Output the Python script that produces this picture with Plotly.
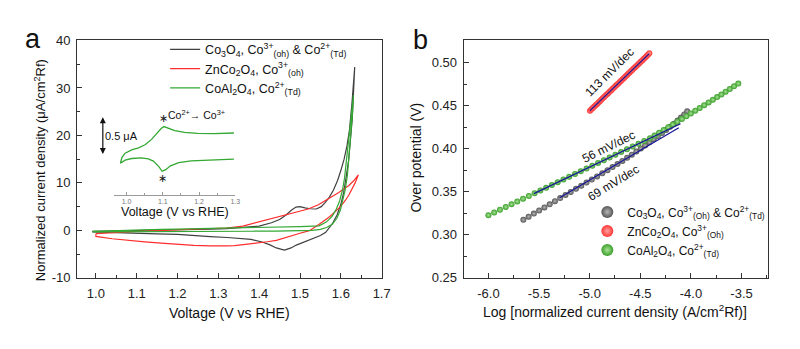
import math
import plotly.graph_objects as go

# ---------------- (a) cyclic voltammograms (forward sweep, then reverse) ----------------
co3o4_v = [0.991, 1.04, 1.08, 1.12, 1.16, 1.20, 1.24, 1.28, 1.32, 1.36, 1.40, 1.43, 1.45, 1.465,
           1.478, 1.490, 1.500, 1.512, 1.525, 1.540, 1.552, 1.562, 1.572, 1.582, 1.592, 1.600,
           1.608, 1.615, 1.621, 1.627, 1.634,
           1.631, 1.628, 1.624, 1.619, 1.613, 1.607, 1.600, 1.591, 1.580, 1.563, 1.550, 1.535,
           1.520, 1.505, 1.491, 1.478, 1.468, 1.462, 1.455, 1.442, 1.425, 1.405, 1.380, 1.350,
           1.322, 1.28, 1.24, 1.20, 1.15, 1.10, 1.05, 1.01, 0.991]
co3o4_j = [-0.2, -0.15, -0.1, 0.0, 0.05, 0.1, 0.2, 0.25, 0.35, 0.55, 0.9, 1.6, 2.3, 3.2,
           4.2, 4.9, 5.0, 4.75, 4.55, 4.5, 5.0, 5.9, 7.0, 8.5, 10.5, 12.6,
           15.0, 17.8, 21.0, 26.5, 34.4,
           29.0, 23.5, 18.8, 14.7, 11.2, 8.0, 5.5, 3.3, 1.5, -0.4, -1.1, -1.6,
           -2.0, -2.5, -3.1, -3.7, -4.05, -4.15, -4.0, -3.7, -3.0, -2.4, -1.9, -1.65,
           -1.5, -1.3, -1.05, -0.85, -0.72, -0.6, -0.5, -0.4, -0.3]

znco2o4_v = [1.000, 1.04, 1.08, 1.12, 1.16, 1.20, 1.24, 1.28, 1.32, 1.36, 1.40, 1.43, 1.46,
             1.49, 1.52, 1.545, 1.563, 1.580, 1.595, 1.607, 1.619, 1.631, 1.643,
             1.635, 1.628, 1.620, 1.611, 1.600, 1.587, 1.570, 1.547, 1.523, 1.500, 1.483,
             1.462, 1.442, 1.420, 1.400, 1.380, 1.362, 1.340, 1.320, 1.300, 1.280, 1.240,
             1.200, 1.160, 1.120, 1.080, 1.040, 1.000, 1.000]
znco2o4_j = [-0.7, -0.45, -0.25, -0.1, 0.0, 0.1, 0.2, 0.3, 0.5, 0.9, 1.8, 2.4, 3.0,
             3.8, 4.5, 5.4, 6.3, 7.1, 8.0, 8.7, 9.4, 10.4, 11.7,
             10.0, 8.7, 7.5, 6.3, 5.1, 4.0, 2.7, 1.27, -0.06, -0.6, -1.0,
             -1.6, -2.1, -2.4, -2.6, -2.85, -3.05, -3.2, -3.28, -3.3, -3.28, -3.15,
             -2.97, -2.7, -2.42, -2.1, -1.76, -1.27, -0.7]

coal2o4_v = [0.992, 1.04, 1.08, 1.12, 1.16, 1.20, 1.26, 1.32, 1.38, 1.44, 1.50, 1.547, 1.565,
             1.579, 1.589, 1.597, 1.604, 1.609, 1.614, 1.619, 1.625, 1.631,
             1.628, 1.624, 1.620, 1.616, 1.611, 1.605, 1.599, 1.590, 1.579, 1.565, 1.550,
             1.530, 1.500, 1.44, 1.38, 1.32, 1.26, 1.20, 1.14, 1.08, 1.03, 0.992]
coal2o4_j = [-0.2, -0.05, 0.05, 0.12, 0.2, 0.28, 0.36, 0.46, 0.55, 0.68, 0.8, 0.95, 1.8,
             3.0, 4.5, 6.2, 8.5, 11.0, 15.0, 19.0, 24.0, 28.5,
             24.0, 19.5, 15.0, 11.5, 8.7, 6.2, 4.3, 2.5, 1.27, 0.6, 0.2,
             0.0, -0.1, -0.15, -0.18, -0.2, -0.22, -0.25, -0.27, -0.3, -0.3, -0.3]

# inset: zoomed CoAl2O4 loop (current in uA, arbitrary offset)
inset_v = [1.296, 1.224, 1.178, 1.144, 1.121, 1.108, 1.098, 1.089, 1.074, 1.060, 1.041, 1.014,
           0.996, 0.983, 0.987, 0.996, 1.014, 1.033, 1.051, 1.069, 1.083, 1.096, 1.103, 1.115,
           1.133, 1.160, 1.196, 1.242, 1.296]
inset_i = [0.4625, 0.454, 0.441, 0.416, 0.375, 0.325, 0.304, 0.366, 0.4375, 0.466, 0.479, 0.471,
           0.45, 0.409, 0.484, 0.541, 0.584, 0.609, 0.650, 0.721, 0.804, 0.866, 0.888, 0.866,
           0.834, 0.813, 0.800, 0.796, 0.804]
inset_scale_bar = 0.5  # uA

# ---------------- (b) Tafel data ----------------
co3o4_logj = [-5.655, -5.603, -5.551, -5.499, -5.447, -5.395, -5.343, -5.291, -5.239, -5.187,
              -5.135, -5.083, -5.031, -4.979, -4.927, -4.875, -4.824, -4.774, -4.725, -4.677,
              -4.630, -4.584, -4.539, -4.495, -4.452, -4.410, -4.368, -4.326, -4.285, -4.245,
              -4.206, -4.168, -4.132, -4.098, -4.066, -4.037]
co3o4_eta = [0.3174, 0.3210, 0.3246, 0.3282, 0.3318, 0.3354, 0.3390, 0.3426, 0.3462, 0.3498,
             0.3534, 0.3570, 0.3606, 0.3642, 0.3678, 0.3714, 0.3750, 0.3786, 0.3822, 0.3858,
             0.3894, 0.3930, 0.3966, 0.4002, 0.4038, 0.4074, 0.4110, 0.4146, 0.4182, 0.4218,
             0.4254, 0.4290, 0.4326, 0.4362, 0.4398, 0.4434]

znco2o4_logj = [-4.997, -4.983, -4.969, -4.955, -4.941, -4.927, -4.913, -4.899, -4.885, -4.871,
                -4.857, -4.843, -4.829, -4.815, -4.801, -4.787, -4.773, -4.759, -4.745, -4.731,
                -4.717, -4.703, -4.689, -4.675, -4.661, -4.647, -4.633, -4.619, -4.605, -4.591,
                -4.577, -4.563, -4.549, -4.535, -4.521, -4.507, -4.493, -4.479, -4.465, -4.451,
                -4.437, -4.424, -4.411]
znco2o4_eta = [0.4441, 0.4457, 0.4473, 0.4489, 0.4505, 0.4520, 0.4536, 0.4552, 0.4568, 0.4584,
               0.4600, 0.4616, 0.4632, 0.4647, 0.4663, 0.4679, 0.4695, 0.4711, 0.4727, 0.4743,
               0.4758, 0.4774, 0.4790, 0.4806, 0.4822, 0.4838, 0.4853, 0.4869, 0.4885, 0.4901,
               0.4917, 0.4933, 0.4948, 0.4964, 0.4980, 0.4996, 0.5012, 0.5028, 0.5043, 0.5059,
               0.5075, 0.5091, 0.5108]

coal2o4_logj = [-6.000, -5.943, -5.886, -5.829, -5.772, -5.715, -5.658, -5.601, -5.544, -5.487,
                -5.430, -5.373, -5.316, -5.259, -5.202, -5.145, -5.088, -5.031, -4.974, -4.917,
                -4.860, -4.803, -4.746, -4.689, -4.632, -4.575, -4.518, -4.461, -4.404, -4.359,
                -4.314, -4.269, -4.224, -4.179, -4.134, -4.089, -4.045, -4.001, -3.957, -3.913,
                -3.869, -3.825, -3.783, -3.741, -3.699, -3.657, -3.616, -3.574, -3.532]
coal2o4_eta = [0.3227, 0.3259, 0.3291, 0.3323, 0.3355, 0.3387, 0.3419, 0.3450, 0.3482, 0.3514,
               0.3546, 0.3578, 0.3610, 0.3642, 0.3674, 0.3706, 0.3738, 0.3770, 0.3802, 0.3834,
               0.3865, 0.3897, 0.3929, 0.3961, 0.3993, 0.4025, 0.4057, 0.4089, 0.4121, 0.4153,
               0.4185, 0.4217, 0.4249, 0.4281, 0.4313, 0.4345, 0.4377, 0.4409, 0.4441, 0.4473,
               0.4505, 0.4537, 0.4568, 0.4599, 0.4630, 0.4662, 0.4693, 0.4725, 0.4756]

# Tafel fits: slope (V/dec), intercept (V), fitted log j span
fit_slopes = [0.069, 0.113, 0.056]
fit_intercepts = [0.7085, 1.0088, 0.6587]
fit_spans = [(-5.297, -4.12), (-4.997, -4.411), (-5.551, -4.103)]
fit_labels = ["69 mV/dec", "113 mV/dec", "56 mV/dec"]
fit_label_pos = [(-4.765, 0.3598), (-4.80, 0.4889), (-4.818, 0.4022)]

# axis ticks
a_xticks = [1.0, 1.1, 1.2, 1.3, 1.4, 1.5, 1.6, 1.7]
a_yticks = [-10, 0, 10, 20, 30, 40]
b_xticks = [-6.0, -5.5, -5.0, -4.5, -4.0, -3.5]
b_yticks = [0.25, 0.30, 0.35, 0.40, 0.45, 0.50]
inset_xticks = [1.0, 1.1, 1.2, 1.3]

names = [
    "Co<sub>3</sub>O<sub>4</sub>, Co<sup>3+</sup><sub>(oh)</sub> & Co<sup>2+</sup><sub>(Td)</sub>",
    "ZnCo<sub>2</sub>O<sub>4</sub>, Co<sup>3+</sup><sub>(oh)</sub>",
    "CoAl<sub>2</sub>O<sub>4</sub>, Co<sup>2+</sup><sub>(Td)</sub>",
]
names_b = [
    "Co<sub>3</sub>O<sub>4</sub>, Co<sup>3+</sup><sub>(Oh)</sub> & Co<sup>2+</sup><sub>(Td)</sub>",
    "ZnCo<sub>2</sub>O<sub>4</sub>, Co<sup>3+</sup><sub>(Oh)</sub>",
    "CoAl<sub>2</sub>O<sub>4</sub>, Co<sup>2+</sup><sub>(Td)</sub>",
]

FONT = "Liberation Sans, Arial, sans-serif"
FRAME = "#333333"
line_colors = ["#404040", "#ff2d2d", "#33a833"]
ball_edge = ["#555555", "#ff3535", "#3c9e2c"]
ball_core = ["#b5b5b5", "#ffa0a0", "#a6e394"]
FIT_BLUE = "#16169a"

# pixel scale of panel b (for text rotation along fitted lines)
B_PX_PER_DEC = 308 / (-3.236 + 6.244)
B_PX_PER_V = 248 / (0.5256 - 0.25)

fig = go.Figure()

# panel a curves
for v, j, c, n in zip([co3o4_v, znco2o4_v, coal2o4_v], [co3o4_j, znco2o4_j, coal2o4_j],
                      line_colors, names):
    fig.add_trace(go.Scatter(x=v, y=j, mode="lines", name=n, legend="legend",
                             line=dict(color=c, width=1.2), xaxis="x", yaxis="y"))

# inset loop
fig.add_trace(go.Scatter(x=inset_v, y=inset_i, mode="lines", showlegend=False,
                         line=dict(color=line_colors[2], width=1.3), xaxis="x3", yaxis="y3"))

# panel b markers
for k, (lx, ly) in enumerate([(co3o4_logj, co3o4_eta), (znco2o4_logj, znco2o4_eta),
                              (coal2o4_logj, coal2o4_eta)]):
    fig.add_trace(go.Scatter(x=lx, y=ly, mode="markers", name=names_b[k], legend="legend2",
                             marker=dict(size=6, color=ball_edge[k], line=dict(width=0),
                                         gradient=dict(type="radial", color=ball_core[k])),
                             xaxis="x2", yaxis="y2"))

# Tafel fit lines
for s, b, (x0, x1) in zip(fit_slopes, fit_intercepts, fit_spans):
    fig.add_trace(go.Scatter(x=[x0, x1], y=[b + s * x0, b + s * x1], mode="lines",
                             showlegend=False, line=dict(color=FIT_BLUE, width=1.3),
                             xaxis="x2", yaxis="y2"))

axis_base = dict(showline=True, linecolor=FRAME, linewidth=1.2, mirror=True, ticks="inside",
                 ticklen=5, tickwidth=1.1, tickcolor=FRAME, showgrid=False, zeroline=False,
                 tickfont=dict(family=FONT, size=13, color="#222"), ticklabelstandoff=3)

dom_y = [66 / 349, 314 / 349]
fig.update_layout(
    width=800, height=349, margin=dict(l=0, r=0, t=0, b=0),
    paper_bgcolor="white", plot_bgcolor="white",
    font=dict(family=FONT, color="#111"),
    xaxis=dict(axis_base, domain=[78 / 800, 386 / 800], anchor="y", range=[0.954, 1.7],
               tickmode="array", tickvals=a_xticks, ticktext=[f"{t:.1f}" for t in a_xticks],
               minor=dict(ticks="inside", ticklen=3, tickcolor=FRAME, tickmode="linear",
                          tick0=1.0, dtick=0.05)),
    yaxis=dict(axis_base, domain=dom_y, anchor="x", range=[-10, 40],
               tickmode="array", tickvals=a_yticks, ticktext=[str(t) for t in a_yticks],
               minor=dict(ticks="inside", ticklen=3, tickcolor=FRAME, tickmode="linear",
                          tick0=0, dtick=5)),
    xaxis2=dict(axis_base, domain=[469 / 800, 777 / 800], anchor="y2", range=[-6.244, -3.236],
                tickmode="array", tickvals=b_xticks, ticktext=[f"{t:.1f}" for t in b_xticks],
                minor=dict(ticks="inside", ticklen=3, tickcolor=FRAME, tickmode="linear",
                           tick0=-6.0, dtick=0.25)),
    yaxis2=dict(axis_base, domain=dom_y, anchor="x2", range=[0.25, 0.5256],
                tickmode="array", tickvals=b_yticks, ticktext=[f"{t:.2f}" for t in b_yticks],
                minor=dict(ticks="inside", ticklen=3, tickcolor=FRAME, tickmode="linear",
                           tick0=0.25, dtick=0.025)),
    xaxis3=dict(domain=[115 / 800, 238 / 800], anchor="y3", range=[0.9645, 1.3],
                showline=True, linecolor="#9a9a9a", linewidth=1, ticks="inside", ticklen=3,
                tickcolor="#9a9a9a", showgrid=False, zeroline=False,
                tickmode="array", tickvals=inset_xticks,
                ticktext=[f"{t:.1f}" for t in inset_xticks],
                tickfont=dict(family=FONT, size=7, color="#777"), ticklabelstandoff=0,
                minor=dict(ticks="inside", ticklen=2, tickcolor="#9a9a9a", tickmode="linear",
                           tick0=1.0, dtick=0.05)),
    yaxis3=dict(domain=[1 - 196 / 349, 1 - 105 / 349], anchor="x3", range=[0, 1.1375],
                visible=False),
    legend=dict(x=167 / 800, y=1 - 29 / 349, xanchor="left", yanchor="top",
                bgcolor="rgba(0,0,0,0)", font=dict(family=FONT, size=12.5, color="#111"),
                tracegroupgap=0),
    legend2=dict(x=594 / 800, y=1 - 199 / 349, xanchor="left", yanchor="top",
                 bgcolor="rgba(0,0,0,0)", font=dict(family=FONT, size=12, color="#111"),
                 itemsizing="constant", tracegroupgap=0),
)

ann = []
def label(text, x, y, size, angle=0, color="#111", xref="paper", yref="paper", **kw):
    ann.append(dict(text=text, x=x, y=y, xref=xref, yref=yref, showarrow=False,
                    textangle=angle, font=dict(family=FONT, size=size, color=color),
                    xanchor="center", yanchor="middle", **kw))

label("a", 33 / 800, 1 - 33 / 349, 27)
label("b", 425 / 800, 1 - 35 / 349, 27)
label("Voltage (V vs RHE)", 232 / 800, 1 - 320 / 349, 14)
label("Normalized current density (\u03bcA/cm<sup>2</sup>Rf)", 40 / 800, 1 - 171 / 349, 13, angle=-90)
label("Log [normalized current density (A/cm<sup>2</sup>Rf)]", 622 / 800, 1 - 318 / 349, 14)
label("Over potential (V)", 421 / 800, 1 - 157 / 349, 14, angle=-90)

# inset texts
label("Voltage (V vs RHE)", 176.5 / 800, 1 - 214.5 / 349, 12.5)
label("0.5 \u03bcA", 0.986, 0.7625, 11, xref="x3", yref="y3")
label("\u2217", 1.103, 1.0, 11, xref="x3", yref="y3")
label("\u2217", 1.098, 0.215, 11, xref="x3", yref="y3")
label("Co<sup>2+</sup>\u2192 Co<sup>3+</sup>", 1.192, 1.04, 10.5, xref="x3", yref="y3")
# 0.5 uA scale bar
ann.append(dict(x=104 / 800, y=0.51 + inset_scale_bar, xref="paper", yref="y3",
                ax=0, ay=0.51, axref="pixel", ayref="y3", text="", showarrow=True,
                arrowhead=2, arrowside="end+start", arrowsize=1, arrowwidth=1.2,
                arrowcolor="#111", standoff=0, startstandoff=0))

# Tafel slope labels, rotated along each fitted line
for txt, (x, y), s in zip(fit_labels, fit_label_pos, fit_slopes):
    ang = -math.degrees(math.atan(s * B_PX_PER_V / B_PX_PER_DEC))
    label(txt, x, y, 12, angle=ang, xref="x2", yref="y2")

fig.update_layout(annotations=ann)
fig.write_html("out.html")
